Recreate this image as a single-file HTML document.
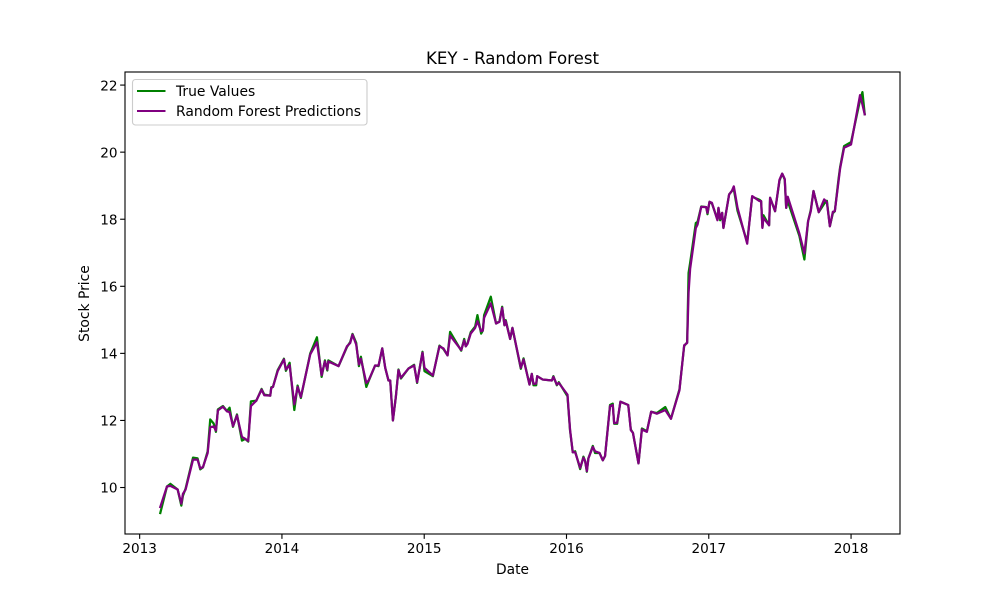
<!DOCTYPE html>
<html lang="en">
<head>
<meta charset="utf-8">
<title>KEY - Random Forest</title>
<style>
html,body{margin:0;padding:0;background:#fff;}
svg{display:block;font-family:"DejaVu Sans","Liberation Sans",sans-serif;fill:#000;}
</style>
</head>
<body>
<svg id="chart" width="1000" height="600" viewBox="0 0 1000 600">
  <text x="512.5" y="64" font-size="16.6" text-anchor="middle">KEY - Random Forest</text>
  <text x="512.5" y="574" font-size="13.8" text-anchor="middle">Date</text>
  <text transform="translate(89,303.5) rotate(-90)" font-size="13.89" text-anchor="middle">Stock Price</text>
  <g id="marks"></g>
  <g id="ticks"></g>
  <rect x="125" y="72" width="775" height="462" fill="none" stroke="#000" stroke-width="1.11"/>
  <g>
    <rect x="132.5" y="79.5" width="234.5" height="45.5" rx="3" ry="3" fill="#fff" fill-opacity="0.8" stroke="#ccc" stroke-width="1.11"/>
    <line x1="137" y1="91" x2="165.5" y2="91" stroke="#008000" stroke-width="2.08"/>
    <text x="176" y="96" font-size="13.89">True Values</text>
    <line x1="137" y1="111" x2="165.5" y2="111" stroke="#800080" stroke-width="2.08"/>
    <text x="176" y="116" font-size="13.89">Random Forest Predictions</text>
  </g>
</svg>
<script>
const dates = [
2013.145,2013.192,2013.216,2013.267,2013.293,2013.304,2013.323,2013.375,2013.407,2013.426,
2013.445,2013.478,2013.496,2013.520,2013.536,2013.550,2013.585,2013.614,2013.632,2013.656,
2013.684,2013.719,2013.742,2013.763,2013.782,2013.820,2013.857,2013.876,2013.918,2013.925,
2013.937,2013.970,2014.014,2014.028,2014.054,2014.087,2014.110,2014.133,2014.199,2014.246,
2014.279,2014.302,2014.319,2014.326,2014.398,2014.457,2014.480,2014.496,2014.522,2014.541,
2014.555,2014.593,2014.609,2014.655,2014.679,2014.705,2014.726,2014.749,2014.761,2014.780,
2014.801,2014.819,2014.836,2014.890,2014.929,2014.950,2014.988,2015.002,2015.061,2015.107,
2015.135,2015.164,2015.182,2015.260,2015.281,2015.292,2015.304,2015.327,2015.358,2015.374,
2015.400,2015.412,2015.421,2015.468,2015.505,2015.529,2015.548,2015.564,2015.573,2015.604,
2015.620,2015.679,2015.698,2015.740,2015.756,2015.768,2015.787,2015.794,2015.833,2015.897,
2015.908,2015.932,2015.946,2016.007,2016.025,2016.044,2016.061,2016.096,2016.119,2016.131,
2016.143,2016.154,2016.185,2016.201,2016.232,2016.255,2016.271,2016.306,2016.325,2016.335,
2016.356,2016.379,2016.434,2016.452,2016.467,2016.506,2016.530,2016.565,2016.595,2016.635,
2016.694,2016.734,2016.794,2016.827,2016.848,2016.858,2016.869,2016.909,2016.921,2016.947,
2016.982,2016.991,2017.005,2017.022,2017.061,2017.068,2017.080,2017.094,2017.103,2017.143,
2017.162,2017.176,2017.202,2017.270,2017.305,2017.356,2017.368,2017.377,2017.384,2017.424,
2017.431,2017.466,2017.497,2017.516,2017.534,2017.544,2017.555,2017.637,2017.672,2017.698,
2017.717,2017.736,2017.773,2017.811,2017.830,2017.851,2017.872,2017.886,2017.912,2017.923,
2017.951,2018.000,2018.063,2018.080,2018.096
];
const trueValues = [
9.24,10.03,10.11,9.94,9.46,9.75,9.97,10.89,10.87,10.54,
10.60,11.08,12.03,11.91,11.66,12.33,12.43,12.28,12.38,11.81,
12.18,11.40,11.45,11.37,12.57,12.59,12.94,12.77,12.74,12.99,
13.00,13.50,13.84,13.48,13.72,12.31,13.04,12.67,14.00,14.48,
13.30,13.79,13.49,13.79,13.62,14.19,14.34,14.58,14.31,13.62,
13.90,13.00,13.17,13.64,13.62,14.15,13.57,13.19,13.19,12.00,
12.72,13.52,13.25,13.55,13.66,13.12,14.05,13.47,13.32,14.23,
14.13,13.94,14.64,14.08,14.43,14.21,14.30,14.63,14.80,15.14,
14.59,14.68,15.14,15.69,14.89,14.96,15.39,14.84,14.99,14.43,
14.76,13.54,13.85,13.07,13.39,13.05,13.05,13.32,13.22,13.19,
13.32,13.05,13.14,12.72,11.70,11.05,11.08,10.55,10.92,10.79,
10.47,10.87,11.24,11.03,11.03,10.81,10.94,12.46,12.50,11.90,
11.90,12.56,12.46,11.73,11.63,10.72,11.76,11.68,12.26,12.22,
12.40,12.05,12.93,14.22,14.33,16.40,16.70,17.89,17.92,18.38,
18.36,18.15,18.52,18.47,18.00,18.34,17.97,18.19,17.74,18.74,
18.84,18.90,18.25,17.32,18.67,18.58,18.54,17.76,18.12,17.82,
18.64,18.24,19.15,19.36,19.18,18.34,18.54,17.50,16.80,17.94,
18.28,18.84,18.21,18.46,18.55,17.79,18.18,18.24,19.20,19.55,
20.18,20.30,21.55,21.79,21.13
];
const predictedValues = [
9.42,10.03,10.05,9.94,9.52,9.81,9.94,10.83,10.83,10.57,
10.61,11.03,11.80,11.82,11.70,12.30,12.41,12.27,12.25,11.83,
12.15,11.51,11.45,11.39,12.43,12.59,12.92,12.75,12.74,12.97,
13.00,13.47,13.82,13.52,13.65,12.48,13.00,12.70,13.97,14.33,
13.35,13.76,13.52,13.76,13.62,14.21,14.31,14.56,14.26,13.67,
13.84,13.12,13.19,13.64,13.64,14.15,13.57,13.19,13.19,12.00,
12.72,13.50,13.27,13.55,13.64,13.14,14.02,13.57,13.34,14.21,
14.15,13.94,14.53,14.10,14.39,14.21,14.28,14.59,14.76,14.96,
14.66,14.68,15.06,15.49,14.89,14.94,15.36,14.84,14.96,14.43,
14.76,13.57,13.82,13.07,13.39,13.09,13.10,13.32,13.22,13.19,
13.30,13.07,13.12,12.77,11.73,11.05,11.05,10.59,10.89,10.79,
10.49,10.87,11.21,11.08,11.03,10.81,10.94,12.43,12.46,11.92,
11.93,12.56,12.46,11.71,11.63,10.72,11.73,11.66,12.26,12.20,
12.31,12.05,12.90,14.24,14.31,15.81,16.52,17.74,17.84,18.37,
18.36,18.19,18.52,18.49,17.97,18.34,18.01,18.19,17.74,18.74,
18.84,18.98,18.34,17.27,18.69,18.54,18.54,17.74,18.04,17.82,
18.64,18.24,19.18,19.36,19.20,18.34,18.67,17.57,16.98,17.94,
18.24,18.84,18.21,18.59,18.51,17.79,18.22,18.24,19.13,19.51,
20.13,20.23,21.70,21.42,21.13
];
const xTickValues = [2013, 2014, 2015, 2016, 2017, 2018];
const yTickValues = [10, 12, 14, 16, 18, 20, 22];

const NS = 'http://www.w3.org/2000/svg';
const plot = { left: 125, right: 900, top: 72, bottom: 534 };
const xDomain = [2012.897, 2018.344];
const yDomain = [8.614, 22.39];

function xScale(v) {
  return plot.left + (v - xDomain[0]) / (xDomain[1] - xDomain[0]) * (plot.right - plot.left);
}
function yScale(v) {
  return plot.bottom - (v - yDomain[0]) / (yDomain[1] - yDomain[0]) * (plot.bottom - plot.top);
}
function make(tag, attrs) {
  const el = document.createElementNS(NS, tag);
  Object.keys(attrs).forEach(function (k) { el.setAttribute(k, attrs[k]); });
  return el;
}
function seriesPoints(values) {
  return values.map(function (v, i) {
    return xScale(dates[i]).toFixed(2) + ',' + yScale(v).toFixed(2);
  }).join(' ');
}

const marks = document.getElementById('marks');
const ticks = document.getElementById('ticks');

const trueLine = make('polyline', { points: seriesPoints(trueValues), fill: 'none', stroke: '#008000', 'stroke-width': 2.25, 'stroke-linejoin': 'round', 'stroke-linecap': 'square' });


marks.appendChild(trueLine);

const predictedLine = make('polyline', { points: seriesPoints(predictedValues), fill: 'none', stroke: '#800080', 'stroke-width': 2.25, 'stroke-linejoin': 'round', 'stroke-linecap': 'square' });


marks.appendChild(predictedLine);

xTickValues.forEach(function (t) {
  const x = xScale(t);
  const tick = make('line', { x1: x, y1: plot.bottom, x2: x, y2: plot.bottom + 4.86, stroke: '#000', 'stroke-width': 1.11 });
  
  
  ticks.appendChild(tick);
  const label = make('text', { x: x, y: 553, 'font-size': 13.6, 'text-anchor': 'middle' });
  
  
  label.textContent = String(t);
  ticks.appendChild(label);
});

yTickValues.forEach(function (t) {
  const y = yScale(t);
  const tick = make('line', { x1: plot.left - 4.86, y1: y, x2: plot.left, y2: y, stroke: '#000', 'stroke-width': 1.11 });
  
  
  ticks.appendChild(tick);
  const label = make('text', { x: 117.5, y: y + 5.2, 'font-size': 13.6, 'text-anchor': 'end' });
  
  
  label.textContent = String(t);
  ticks.appendChild(label);
});
</script>
</body>
</html>
